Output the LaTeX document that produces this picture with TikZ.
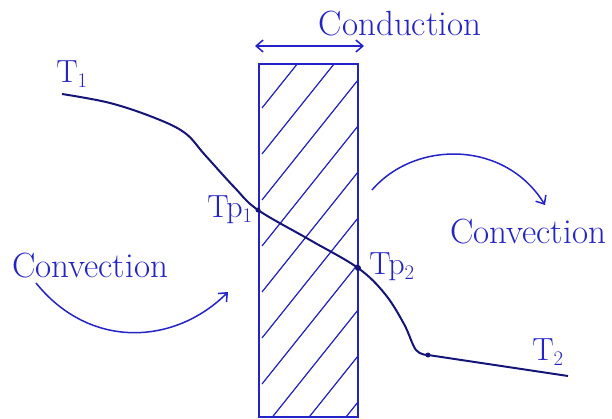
\documentclass[tikz,border=0pt]{standalone}
\usepackage{tikz}
\usetikzlibrary{arrows.meta}
\definecolor{ink}{RGB}{35,35,200}

\begin{document}
\begin{tikzpicture}[x=1pt,y=-1pt, line width=1.5pt, color=ink,
  >={Straight Barb[length=7pt,width=12pt]},
  lbl/.style={font=\fontsize{35}{38}\selectfont, inner sep=0pt},
  tlbl/.style={font=\fontsize{32}{34}\selectfont, inner sep=0pt}]
\useasboundingbox (0,0) rectangle (612,419);
% wall
\draw (259,64) rectangle (358,417);
\begin{scope}
\clip (259,64) rectangle (358,417);
\foreach \y in {108,154,...,560} \draw[line width=1.2pt] (262,\y) -- ++(100,-125);
\end{scope}
% conduction
\draw[<->] (255,46) -- (364,46);
\node[lbl] (cond) at (400,24) {Conduction};
% temperature profile
\coordinate (a) at (62,94);
\coordinate (tp1) at (258,210);
\coordinate (tp2) at (358,268);
\coordinate (b) at (428,355);
\coordinate (c) at (568,376);
\draw[line width=2pt, black!40!ink] plot[smooth, tension=0.6] coordinates {(a) (110,103) (155,118) (185,133) (205,155) (235,188) (tp1) (310,240) (tp2) (385,294) (404,324) (416,350) (b)}
  -- (c);
\fill[black!40!ink] (tp1) circle (2.5pt) (tp2) circle (3pt) (b) circle (2.5pt);
\node[tlbl] (t1) at (72,74) {T$_1$};
\node[tlbl] (ltp1) at (230,210) {Tp$_1$};
\node[tlbl] (ltp2) at (392,267) {Tp$_2$};
\node[tlbl] (t2) at (548,352) {T$_2$};
% convection
\node[lbl] (convl) at (90,266) {Convection};
\node[lbl] (convr) at (528,232) {Convection};
\coordinate (l1) at (36,283);
\coordinate (l2) at (228,292);
\coordinate (r1) at (372,190);
\coordinate (r2) at (545,205);
\draw[->] (l1) .. controls (90,350) and (175,345) .. (l2);
\draw[->] (r1) .. controls (415,140) and (505,140) .. (r2);
\end{tikzpicture}
\end{document}
